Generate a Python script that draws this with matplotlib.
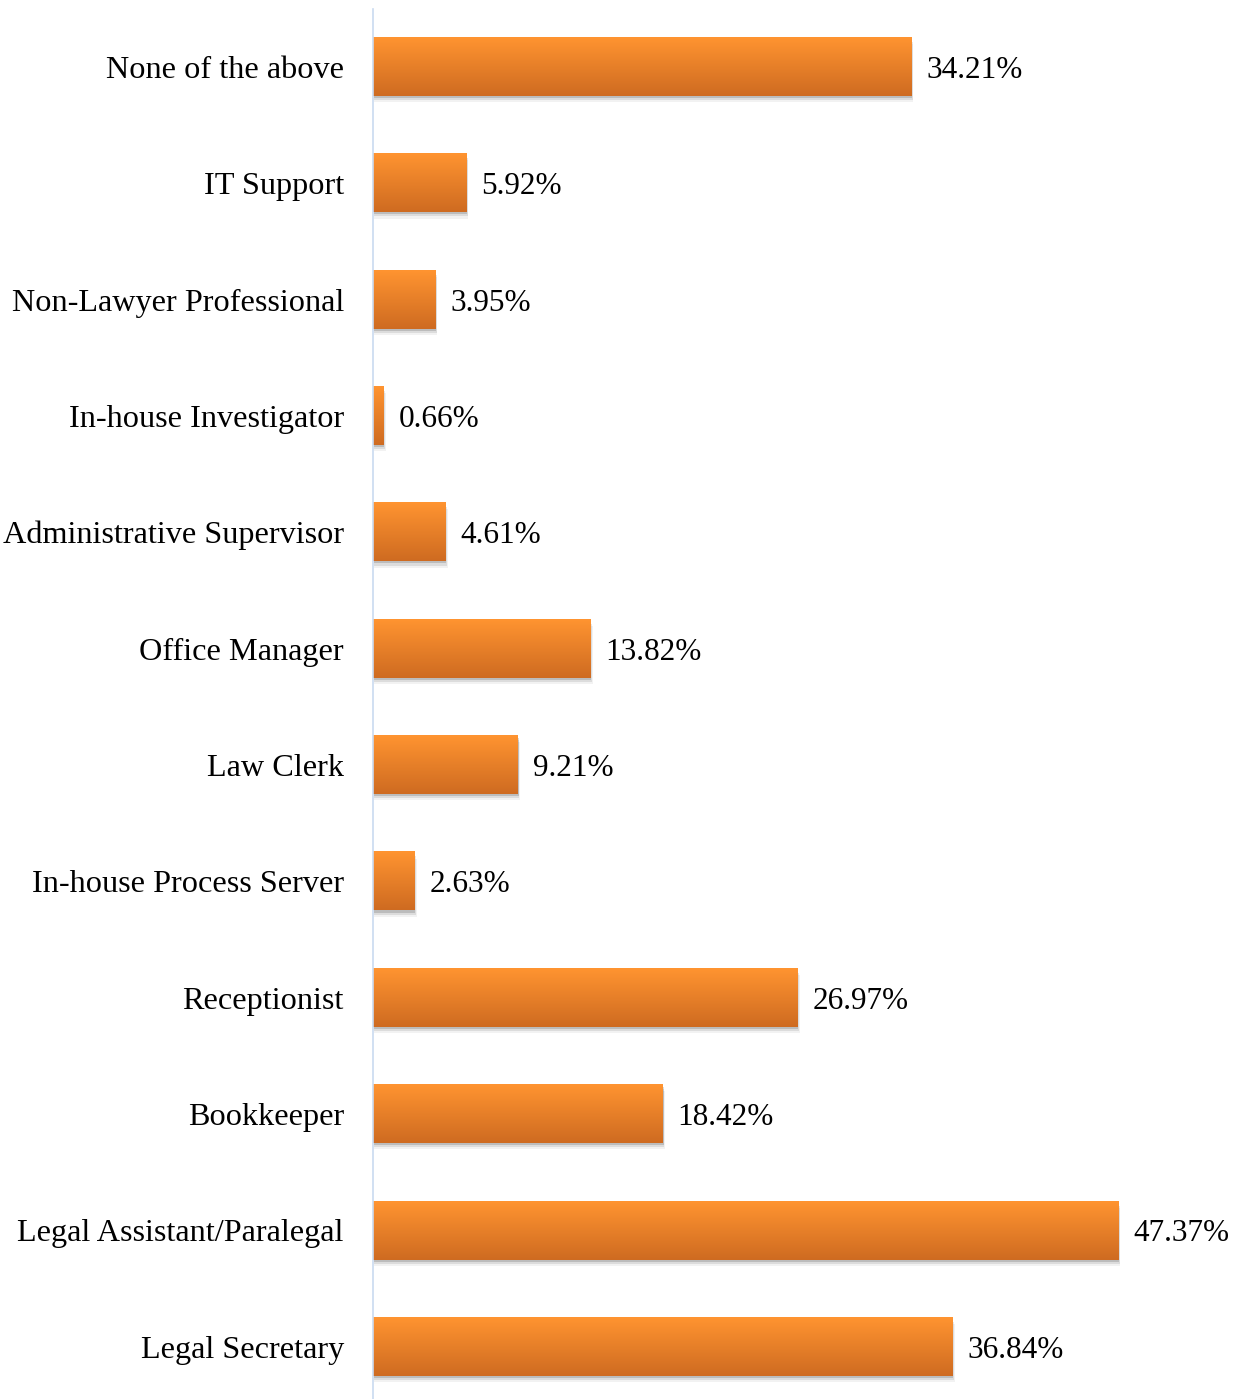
import numpy as np
import matplotlib.pyplot as plt
from matplotlib.patches import Rectangle

categories = ["Legal Secretary", "Legal Assistant/Paralegal", "Bookkeeper",
              "Receptionist", "In-house Process Server", "Law Clerk",
              "Office Manager", "Administrative Supervisor",
              "In-house Investigator", "Non-Lawyer Professional",
              "IT Support", "None of the above"]
values = [36.84, 47.37, 18.42, 26.97, 2.63, 9.21, 13.82, 4.61, 0.66, 3.95, 5.92, 34.21]

plt.rcParams['font.family'] = ['Liberation Serif', 'DejaVu Serif']

W, H = 1242, 1399
fig = plt.figure(figsize=(W / 100, H / 100), dpi=100)
# axes slightly taller than the figure at the bottom, as in the original
ax = fig.add_axes([373 / W, -6 / H, 1 - 373 / W, 1396.4 / H])

# vertical gradient, light orange on top, darker at bottom
grad = np.linspace(0, 1, 64)
top = np.array([1.0, 0.58, 0.19])
bot = np.array([0.81, 0.42, 0.13])
img = (top + (bot - top) * grad[:, None]).reshape(64, 1, 3)

h = 0.5
for i, v in enumerate(values):
    # soft shadow below the bar
    for k, a in enumerate([0.14, 0.09, 0.05]):
        d = 0.018 * (k + 1)
        ax.add_patch(Rectangle((0.05, i - h / 2 - d), v + 0.05 * k, h,
                               facecolor='black', alpha=a, lw=0, zorder=1))
    # origin='upper' puts row 0 at extent top
    ax.imshow(img, extent=[0, v, i - h / 2, i + h / 2], origin='upper',
              aspect='auto', interpolation='bilinear', zorder=2)
    ax.text(v + 0.95, i, f"{v:.2f}%", va='center_baseline', ha='left', fontsize=22.5)

ax.set_xlim(0, (W - 373) / 15.73)
ax.set_ylim(-0.5, len(values) - 0.5)
ax.set_yticks(range(len(categories)))
ax.set_yticklabels(categories, fontsize=23.2)
ax.tick_params(axis='y', length=0, pad=21)
ax.set_xticks([])
for s in ['top', 'right', 'bottom']:
    ax.spines[s].set_visible(False)
ax.spines['left'].set_color('#c9daf0')
ax.spines['left'].set_linewidth(1.2)

fig.savefig("out.png", dpi=100)
